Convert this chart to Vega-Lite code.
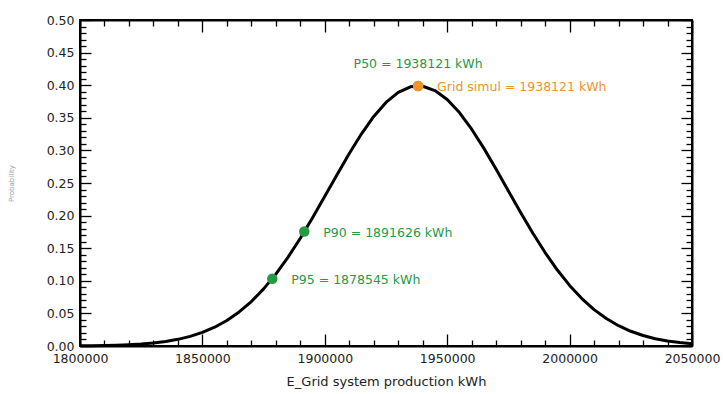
{
  "$schema": "https://vega.github.io/schema/vega-lite/v6.json",
  "width": 612,
  "height": 326,
  "autosize": {"type": "none"},
  "padding": {"left": 80, "top": 20, "right": 31, "bottom": 48},
  "background": "white",
  "config": {
    "view": {"stroke": "black", "strokeWidth": 2},
    "font": "DejaVu Sans",
    "axis": {"grid": false, "domainColor": "black", "domainWidth": 2, "tickColor": "black", "tickWidth": 1.3, "labelColor": "#222", "labelFontSize": 12.5, "labelFont": "DejaVu Sans"}
  },
  "datasets": {
    "curve": [
      {"x": 1800000, "p": 0.0003},
      {"x": 1805000, "p": 0.0005},
      {"x": 1810000, "p": 0.0008},
      {"x": 1815000, "p": 0.0013},
      {"x": 1820000, "p": 0.0020},
      {"x": 1825000, "p": 0.0031},
      {"x": 1830000, "p": 0.0047},
      {"x": 1835000, "p": 0.0070},
      {"x": 1840000, "p": 0.0102},
      {"x": 1845000, "p": 0.0147},
      {"x": 1850000, "p": 0.0208},
      {"x": 1855000, "p": 0.0288},
      {"x": 1860000, "p": 0.0391},
      {"x": 1865000, "p": 0.0522},
      {"x": 1870000, "p": 0.0682},
      {"x": 1875000, "p": 0.0876},
      {"x": 1880000, "p": 0.1103},
      {"x": 1885000, "p": 0.1363},
      {"x": 1890000, "p": 0.1652},
      {"x": 1895000, "p": 0.1966},
      {"x": 1900000, "p": 0.2295},
      {"x": 1905000, "p": 0.2628},
      {"x": 1910000, "p": 0.2952},
      {"x": 1915000, "p": 0.3255},
      {"x": 1920000, "p": 0.3521},
      {"x": 1925000, "p": 0.3736},
      {"x": 1930000, "p": 0.3890},
      {"x": 1935000, "p": 0.3975},
      {"x": 1938121, "p": 0.3989},
      {"x": 1940000, "p": 0.3984},
      {"x": 1945000, "p": 0.3918},
      {"x": 1950000, "p": 0.3781},
      {"x": 1955000, "p": 0.3580},
      {"x": 1960000, "p": 0.3325},
      {"x": 1965000, "p": 0.3031},
      {"x": 1970000, "p": 0.2710},
      {"x": 1975000, "p": 0.2378},
      {"x": 1980000, "p": 0.2047},
      {"x": 1985000, "p": 0.1729},
      {"x": 1990000, "p": 0.1433},
      {"x": 1995000, "p": 0.1165},
      {"x": 2000000, "p": 0.0929},
      {"x": 2005000, "p": 0.0727},
      {"x": 2010000, "p": 0.0558},
      {"x": 2015000, "p": 0.0421},
      {"x": 2020000, "p": 0.0311},
      {"x": 2025000, "p": 0.0226},
      {"x": 2030000, "p": 0.0161},
      {"x": 2035000, "p": 0.0112},
      {"x": 2040000, "p": 0.0077},
      {"x": 2045000, "p": 0.0052},
      {"x": 2050000, "p": 0.0034}
    ],
    "marks": [
      {"x": 1878545, "p": 0.1031, "kind": "P", "label": "P95 = 1878545 kWh", "pos": "right"},
      {"x": 1891626, "p": 0.1755, "kind": "P", "label": "P90 = 1891626 kWh", "pos": "right"},
      {"x": 1938121, "p": 0.3989, "kind": "P", "label": "P50 = 1938121 kWh", "pos": "top"},
      {"x": 1938121, "p": 0.3989, "kind": "Grid", "label": "Grid simul = 1938121 kWh", "pos": "right"}
    ]
  },
  "layer": [
    {
      "data": {"name": "curve"},
      "mark": {"type": "line", "color": "black", "strokeWidth": 3, "strokeJoin": "round"},
      "encoding": {
        "x": {
          "field": "x", "type": "quantitative",
          "scale": {"domain": [1800000, 2050000], "nice": false, "zero": false},
          "axis": {
            "orient": "bottom",
            "values": [1800000, 1850000, 1900000, 1950000, 2000000, 2050000],
            "format": "d",
            "tickSize": -12,
            "labelPadding": 18,
            "labelFlush": false,
            "title": "E_Grid system production kWh",
            "titleFontSize": 13,
            "titleFontWeight": "normal",
            "titleColor": "#222",
            "titlePadding": 11
          }
        },
        "y": {
          "field": "p", "type": "quantitative",
          "scale": {"domain": [0, 0.5], "nice": false},
          "axis": {
            "orient": "left",
            "values": [0, 0.05, 0.1, 0.15, 0.2, 0.25, 0.3, 0.35, 0.4, 0.45, 0.5],
            "format": ".2f",
            "tickSize": -11,
            "labelPadding": 17,
            "labelFlush": false,
            "title": "Probability",
            "titleFontSize": 7,
            "titleFontWeight": "normal",
            "titleColor": "#999",
            "titlePadding": 32
          }
        }
      }
    },
    {
      "data": {"name": "marks"},
      "mark": {"type": "point", "filled": true, "opacity": 1, "size": 110},
      "encoding": {
        "x": {
          "field": "x", "type": "quantitative",
          "axis": {
            "orient": "top",
            "values": [1800000, 1850000, 1900000, 1950000, 2000000, 2050000],
            "labels": false,
            "tickSize": -12,
            "title": null
          }
        },
        "y": {
          "field": "p", "type": "quantitative",
          "axis": {
            "orient": "right",
            "values": [0, 0.05, 0.1, 0.15, 0.2, 0.25, 0.3, 0.35, 0.4, 0.45, 0.5],
            "labels": false,
            "tickSize": -11,
            "title": null
          }
        },
        "color": {"field": "kind", "type": "nominal", "scale": {"domain": ["P", "Grid"], "range": ["#249a45", "#f2922a"]}, "legend": null}
      }
    },
    {
      "data": {"name": "marks"},
      "transform": [{"filter": "datum.pos == 'right'"}],
      "mark": {"type": "text", "align": "left", "baseline": "middle", "dx": 19, "dy": 1, "fontSize": 12.5, "font": "DejaVu Sans"},
      "encoding": {
        "x": {
          "field": "x", "type": "quantitative",
          "axis": {
            "orient": "bottom",
            "values": [1810000,1820000,1830000,1840000,1860000,1870000,1880000,1890000,1910000,1920000,1930000,1940000,1960000,1970000,1980000,1990000,2010000,2020000,2030000,2040000],
            "labels": false,
            "domain": false,
            "tickSize": -6,
            "title": null
          }
        },
        "y": {
          "field": "p", "type": "quantitative",
          "axis": {
            "orient": "left",
            "values": [0.01,0.02,0.03,0.04,0.06,0.07,0.08,0.09,0.11,0.12,0.13,0.14,0.16,0.17,0.18,0.19,0.21,0.22,0.23,0.24,0.26,0.27,0.28,0.29,0.31,0.32,0.33,0.34,0.36,0.37,0.38,0.39,0.41,0.42,0.43,0.44,0.46,0.47,0.48,0.49],
            "labels": false,
            "domain": false,
            "tickSize": -6,
            "title": null
          }
        },
        "text": {"field": "label"},
        "color": {"field": "kind", "type": "nominal", "legend": null}
      }
    },
    {
      "data": {"name": "marks"},
      "transform": [{"filter": "datum.pos == 'top'"}],
      "mark": {"type": "text", "align": "center", "baseline": "middle", "dy": -22, "fontSize": 12.5, "font": "DejaVu Sans"},
      "encoding": {
        "x": {
          "field": "x", "type": "quantitative",
          "axis": {
            "orient": "top",
            "values": [1810000,1820000,1830000,1840000,1860000,1870000,1880000,1890000,1910000,1920000,1930000,1940000,1960000,1970000,1980000,1990000,2010000,2020000,2030000,2040000],
            "labels": false,
            "domain": false,
            "tickSize": -6,
            "title": null
          }
        },
        "y": {
          "field": "p", "type": "quantitative",
          "axis": {
            "orient": "right",
            "values": [0.01,0.02,0.03,0.04,0.06,0.07,0.08,0.09,0.11,0.12,0.13,0.14,0.16,0.17,0.18,0.19,0.21,0.22,0.23,0.24,0.26,0.27,0.28,0.29,0.31,0.32,0.33,0.34,0.36,0.37,0.38,0.39,0.41,0.42,0.43,0.44,0.46,0.47,0.48,0.49],
            "labels": false,
            "domain": false,
            "tickSize": -6,
            "title": null
          }
        },
        "text": {"field": "label"},
        "color": {"field": "kind", "type": "nominal", "legend": null}
      }
    }
  ],
  "resolve": {"axis": {"x": "independent", "y": "independent"}}
}
